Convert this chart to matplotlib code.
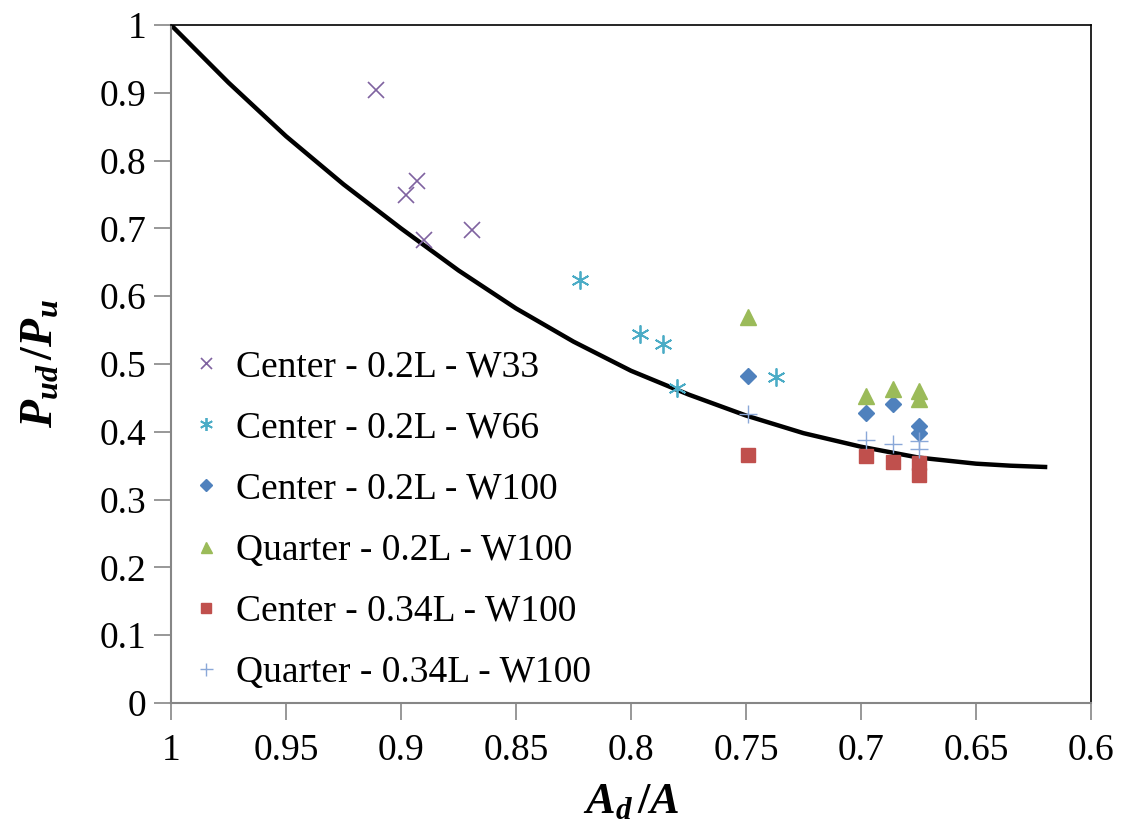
import matplotlib.pyplot as plt

plt.rcParams['font.family'] = 'Liberation Serif'
plt.rcParams['mathtext.fontset'] = 'custom'
plt.rcParams['mathtext.rm'] = 'Liberation Serif'
plt.rcParams['mathtext.it'] = 'Liberation Serif:italic'
plt.rcParams['mathtext.bf'] = 'Liberation Serif:bold'
plt.rcParams['mathtext.bfit'] = 'Liberation Serif:italic:bold'

# Data
w33_x = [0.911, 0.893, 0.898, 0.890, 0.869]
w33_y = [0.904, 0.770, 0.749, 0.683, 0.698]

w66_x = [0.822, 0.796, 0.786, 0.780, 0.737]
w66_y = [0.624, 0.544, 0.529, 0.465, 0.481]

c02_w100_x = [0.749, 0.698, 0.686, 0.675, 0.675]
c02_w100_y = [0.482, 0.428, 0.441, 0.409, 0.398]

q02_w100_x = [0.749, 0.698, 0.686, 0.675, 0.675]
q02_w100_y = [0.569, 0.453, 0.463, 0.460, 0.448]

c034_w100_x = [0.749, 0.698, 0.686, 0.675, 0.675]
c034_w100_y = [0.366, 0.364, 0.355, 0.354, 0.336]

q034_w100_x = [0.749, 0.698, 0.686, 0.675, 0.675]
q034_w100_y = [0.426, 0.388, 0.382, 0.387, 0.375]

# reference curve
curve_x = [1.0, 0.975, 0.95, 0.925, 0.9, 0.875, 0.85, 0.825, 0.8,
           0.775, 0.75, 0.725, 0.7, 0.675, 0.65, 0.635, 0.619]
curve_y = [1.0, 0.915, 0.836, 0.765, 0.700, 0.638, 0.582, 0.533, 0.490,
           0.455, 0.424, 0.398, 0.378, 0.362, 0.353, 0.350, 0.348]

x_ticks = [1, 0.95, 0.9, 0.85, 0.8, 0.75, 0.7, 0.65, 0.6]
x_tick_labels = ['1', '0.95', '0.9', '0.85', '0.8', '0.75', '0.7', '0.65', '0.6']
y_ticks = [0, 0.1, 0.2, 0.3, 0.4, 0.5, 0.6, 0.7, 0.8, 0.9, 1]
y_tick_labels = ['0', '0.1', '0.2', '0.3', '0.4', '0.5', '0.6', '0.7', '0.8', '0.9', '1']

fig = plt.figure(figsize=(11.27, 8.32), dpi=100)
ax = fig.add_axes([171 / 1127, 1 - 703 / 832, (1091 - 171) / 1127, (703 - 25) / 832])

ax.plot(curve_x, curve_y, color='black', lw=3.2, zorder=2, solid_capstyle='butt',
        solid_joinstyle='round')

ax.plot(w33_x, w33_y, ls='none', marker='x', ms=11, mew=1.2, color='#7F62A0',
        label='Center - 0.2L - W33', zorder=3)
ax.plot(w66_x, w66_y, ls='none', marker=(6, 2, 0), ms=13, mew=1.3, color='#4BACC6',
        label='Center - 0.2L - W66', zorder=3)
ax.plot(c02_w100_x, c02_w100_y, ls='none', marker='D', ms=8, color='#4F81BD',
        label='Center - 0.2L - W100', zorder=3)
ax.plot(q02_w100_x, q02_w100_y, ls='none', marker='^', ms=11, color='#9BBB59',
        label='Quarter - 0.2L - W100', zorder=3)
ax.plot(c034_w100_x, c034_w100_y, ls='none', marker='s', ms=9.5, color='#C0504D',
        label='Center - 0.34L - W100', zorder=3)
ax.plot(q034_w100_x, q034_w100_y, ls='none', marker='+', ms=13, mew=1.0, color='#8AA8D8',
        label='Quarter - 0.34L - W100', zorder=3)

ax.set_xlim(1, 0.6)
ax.set_ylim(0, 1)
ax.set_xticks(x_ticks)
ax.set_xticklabels(x_tick_labels)
ax.set_yticks(y_ticks)
ax.set_yticklabels(y_tick_labels)

ax.tick_params(axis='both', direction='out', length=12, width=1.2, color='#868686',
               labelsize=27, pad=6)
ax.tick_params(axis='x', pad=10)
for side in ['left', 'bottom']:
    ax.spines[side].set_color('#868686')
    ax.spines[side].set_linewidth(1.5)
for side in ['top', 'right']:
    ax.spines[side].set_color('black')
    ax.spines[side].set_linewidth(1.2)

ax.set_xlabel(r'$\mathbfit{A}_{\mathbfit{d}}\,\mathbf{/}\mathbfit{A}$', fontsize=32, labelpad=10)
ax.set_ylabel(r'$\mathbfit{P}_{\mathbfit{ud}}\,\mathbf{/}\mathbfit{P}_{\mathbfit{u}}$', fontsize=33, labelpad=26)

ax.legend(loc='upper left', bbox_to_anchor=(0.01, 0.543), frameon=False, fontsize=27,
          markerscale=0.72, handlelength=0.6, handletextpad=0.5, labelspacing=0.71,
          borderaxespad=0)

fig.savefig('out.png', dpi=100)
